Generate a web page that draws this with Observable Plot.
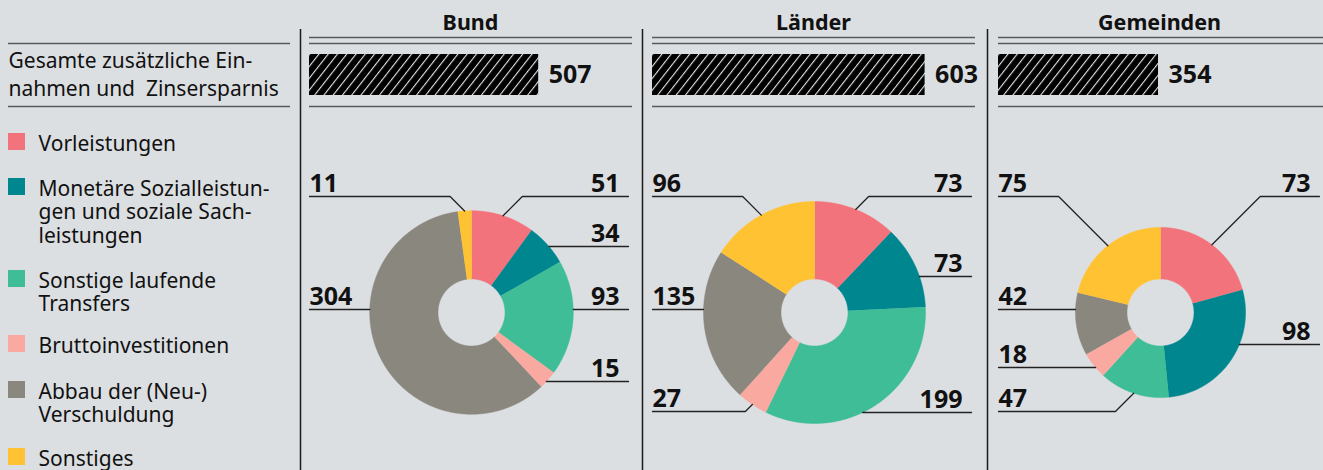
<!DOCTYPE html>
<html><head><meta charset="utf-8">
<script src="https://cdn.jsdelivr.net/npm/d3@7"></script>
<script src="https://cdn.jsdelivr.net/npm/@observablehq/plot@0.6"></script>
<style>
html,body{margin:0;padding:0;background:#dcdfe2;}
#chart{position:relative;width:1323px;height:470px;background:#dcdfe2;overflow:hidden;}
#chart svg{position:absolute;overflow:visible;}
</style></head><body><div id="chart"></div>
<script>
// ---- data ----
const categories = ["Vorleistungen", "Monetäre Sozialleistungen und soziale Sachleistungen", "Sonstige laufende Transfers", "Bruttoinvestitionen", "Abbau der (Neu-) Verschuldung", "Sonstiges"];
const legendLabels = ["Vorleistungen", "Monetäre Sozialleistun-\ngen und soziale Sach-\nleistungen", "Sonstige laufende\nTransfers", "Bruttoinvestitionen", "Abbau der (Neu-)\nVerschuldung", "Sonstiges"];
const colors = ["#f2737b", "#00868f", "#3ebd96", "#f9a99f", "#8a877f", "#ffc233"];
const levels = ["Bund", "Länder", "Gemeinden"];
const totals = [507, 603, 354];
const bundValues = [51, 34, 93, 15, 304, 11];
const laenderValues = [73, 73, 199, 27, 135, 96];
const gemeindenValues = [73, 98, 47, 18, 42, 75];
const totalLabel = "Gesamte zusätzliche Ein-\nnahmen und\u00a0 Zinsersparnis";

// ---- layout ----
const W = 1323, H = 470;
const font = '"Noto Sans", sans-serif';
const ink = "#111";
const dividers = [300, 642, 987];
const panelLeft = [309, 652, 998], panelRight = [632, 975, 1323];
const donutCx = panelLeft.map(x => x + 162), donutCy = 312;
const maxR = 111, innerR = 33.5;
const legendBaselines = [150, 195, 287, 352, 398, 465];
const legendLH = 23.5;
const labelRows = [
  [["right", 196], ["right", 246], ["right", 309], ["right", 381], ["left", 309], ["left", 196]],
  [["right", 196], ["right", 276], ["right", 412], ["left", 411], ["left", 309], ["left", 196]],
  [["right", 196], ["right", 344], ["left", 411], ["left", 367], ["left", 309], ["left", 196]]
];

const chart = document.getElementById("chart");
const rScale = d3.scaleSqrt().domain([0, d3.max(totals)]).range([0, maxR]);

const sliceData = [], leaderData = [], labelData = [];
[bundValues, laenderValues, gemeindenValues].forEach((vals, p) => {
  const cx = donutCx[p], cy = donutCy, r = rScale(totals[p]);
  const arcs = d3.pie().sort(null).value(d => d)(vals);
  arcs.forEach((a, i) => {
    const id = p + "-" + i;
    const n = Math.max(2, Math.ceil((a.endAngle - a.startAngle) / (Math.PI / 360)));
    for (let k = 0; k <= n; k++) {
      const t = a.startAngle + (a.endAngle - a.startAngle) * k / n;
      sliceData.push({id, cat: categories[i], x: cx + r * Math.sin(t), y: cy - r * Math.cos(t)});
    }
    for (let k = n; k >= 0; k--) {
      const t = a.startAngle + (a.endAngle - a.startAngle) * k / n;
      sliceData.push({id, cat: categories[i], x: cx + innerR * Math.sin(t), y: cy - innerR * Math.cos(t)});
    }
    // leader line
    const [side, rowY] = labelRows[p][i];
    const sgn = side === "right" ? 1 : -1;
    const edgeX = side === "right" ? panelRight[p] - 4 : panelLeft[p];
    const margin = 2 * Math.PI / 180;
    let pts = null;
    const dy = rowY - cy;
    if (Math.abs(dy) < r) {
      const dx = Math.sqrt(r * r - dy * dy) * sgn;
      let ang = Math.atan2(dx, -dy); if (ang < 0) ang += 2 * Math.PI;
      if (ang > a.startAngle + margin && ang < a.endAngle - margin) pts = [[edgeX, rowY], [cx + dx, rowY]];
    }
    if (!pts) {
      const am = (a.startAngle + a.endAngle) / 2;
      const px = cx + r * Math.sin(am), py = cy - r * Math.cos(am);
      const d = Math.abs(rowY - py);
      pts = [[edgeX, rowY], [px + sgn * d, rowY], [px, py]];
    }
    pts.forEach(([x, y]) => leaderData.push({id, x, y}));
    labelData.push({side, x: side === "right" ? panelRight[p] - 13 : panelLeft[p], y: rowY - 5, text: String(vals[i])});
  });
});

const hrules = [{y: 43, x1: 8, x2: 290}, {y: 106, x1: 8, x2: 290}];
panelLeft.forEach((x1, p) => [37, 43, 106].forEach(y => hrules.push({y, x1, x2: panelRight[p]})));

const main = Plot.plot({
  width: W, height: H, margin: 0,
  x: {domain: [0, W], range: [0, W], axis: null},
  y: {domain: [0, H], range: [0, H], axis: null},
  color: {domain: categories, range: colors},
  style: {background: "transparent", fontFamily: font, color: ink},
  marks: [
    Plot.ruleX(dividers, {x: d => d, y1: 29, y2: H, stroke: "#1a1a1a", strokeWidth: 1.5}),
    Plot.ruleY(hrules, {y: "y", x1: "x1", x2: "x2", stroke: "#58595b", strokeWidth: 1.6}),
    Plot.text(levels, {x: (d, i) => donutCx[i] - 1, y: 29, text: d => d, fontWeight: 700, fontSize: 21.5, lineAnchor: "bottom", fill: ink}),
    Plot.text([totalLabel], {x: 8, y: 95, text: d => d, textAnchor: "start", lineAnchor: "bottom", fontSize: 21, lineHeight: 28 / 21, fill: ink}),
    Plot.rect(categories, {x1: 8, x2: 25, y1: (d, i) => legendBaselines[i] - 17, y2: (d, i) => legendBaselines[i], fill: d => d}),
    Plot.text(legendLabels, {x: 38, y: (d, i) => legendBaselines[i] + (d.split("\n").length - 1) * legendLH, text: d => d, textAnchor: "start", lineAnchor: "bottom", fontSize: 21, lineHeight: legendLH / 21, fill: ink}),
    Plot.line(sliceData, {x: "x", y: "y", z: "id", fill: "cat", stroke: "cat", strokeWidth: 0.5}),
    Plot.line(leaderData, {x: "x", y: "y", z: "id", stroke: "#222", strokeWidth: 1.3}),
    Plot.text(labelData.filter(d => d.side === "right"), {x: "x", y: "y", text: "text", textAnchor: "end", lineAnchor: "bottom", fontSize: 25, fontWeight: 700, fill: ink}),
    Plot.text(labelData.filter(d => d.side === "left"), {x: "x", y: "y", text: "text", textAnchor: "start", lineAnchor: "bottom", fontSize: 25, fontWeight: 700, fill: ink})
  ]
});
main.style.left = "0px"; main.style.top = "0px";
chart.appendChild(main);

// ---- hatched total bars ----
const ns = "http://www.w3.org/2000/svg";
levels.forEach((lvl, i) => {
  const svg = Plot.plot({
    width: 330, height: 41, margin: 0,
    x: {domain: [0, 730], axis: null},
    style: {background: "transparent", fontFamily: font, color: ink},
    marks: [
      Plot.barX([totals[i]], {x: d => d, fill: `url(#hatch${i})`}),
      Plot.text([totals[i]], {x: d => d, text: d => String(d), dx: 10, textAnchor: "start", fontSize: 25, fontWeight: 700, fill: ink})
    ]
  });
  const defs = document.createElementNS(ns, "defs");
  const pat = document.createElementNS(ns, "pattern");
  pat.setAttribute("id", "hatch" + i);
  pat.setAttribute("patternUnits", "userSpaceOnUse");
  pat.setAttribute("width", "8");
  pat.setAttribute("height", "7.3");
  pat.setAttribute("patternTransform", "rotate(-52)");
  const bg = document.createElementNS(ns, "rect");
  bg.setAttribute("width", "8"); bg.setAttribute("height", "7.3"); bg.setAttribute("fill", "#000");
  const ln = document.createElementNS(ns, "rect");
  ln.setAttribute("width", "8"); ln.setAttribute("height", "1.1"); ln.setAttribute("fill", "#e6e6e6");
  pat.appendChild(bg); pat.appendChild(ln); defs.appendChild(pat);
  svg.insertBefore(defs, svg.firstChild);
  svg.style.left = panelLeft[i] + "px"; svg.style.top = "54px";
  chart.appendChild(svg);
});
</script></body></html>
